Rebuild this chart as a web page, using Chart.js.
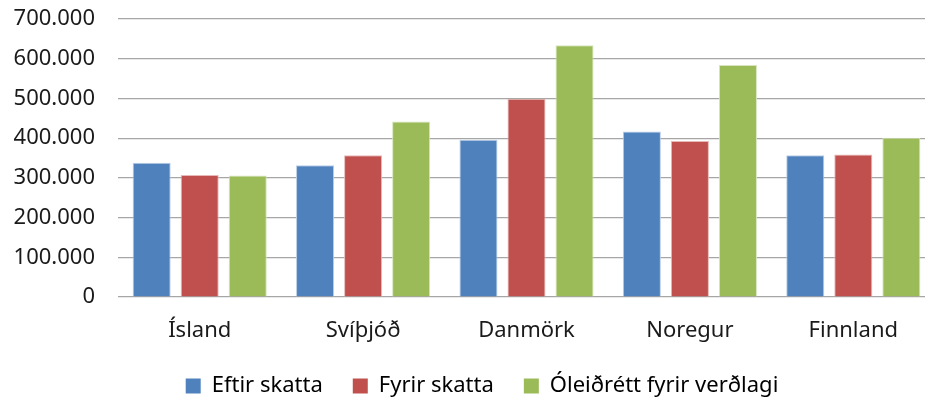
<!DOCTYPE html>
<html>
<head>
<meta charset="utf-8">
<script src="https://cdn.jsdelivr.net/npm/chart.js@4.4.1/dist/chart.umd.min.js"></script>
<style>
  html, body { margin: 0; padding: 0; background: #fff; overflow: hidden; }
  #wrap { width: 964px; height: 401px; }
</style>
</head>
<body>
<div id="wrap"><canvas id="chart" width="964" height="401"></canvas></div>
<script>
// --- data ---
const countries = ['Ísland', 'Svíþjóð', 'Danmörk', 'Noregur', 'Finnland'];
const seriesNames = ['Eftir skatta', 'Fyrir skatta', 'Óleiðrétt fyrir verðlagi'];
const eftirSkatta = [338000, 332000, 396000, 417000, 357000];
const fyrirSkatta = [307000, 357000, 499000, 393000, 359000];
const oleidrett = [306000, 442000, 634000, 584000, 401000];
const yTicks = [0, 100000, 200000, 300000, 400000, 500000, 600000, 700000];

const colors = ['#4F81BD', '#C0504D', '#9BBB59'];
const edges = ['#B9CDE5', '#E6B9B8', '#D7E4BD'];

// thousands with a dot, Icelandic style
function fmt(v) {
    return String(v).replace(/\B(?=(\d{3})+(?!\d))/g, '.');
}

const font = { family: '"Noto Sans", sans-serif', size: 22 };

const ctx = document.getElementById('chart').getContext('2d');
new Chart(ctx, {
    type: 'bar',
    data: {
        labels: countries,
        datasets: [eftirSkatta, fyrirSkatta, oleidrett].map((d, i) => ({
            label: seriesNames[i],
            data: d,
            backgroundColor: colors[i],
            borderColor: edges[i],
            borderWidth: 1,
            categoryPercentage: 0.882,
            barPercentage: 0.792
        }))
    },
    options: {
        responsive: false,
        animation: false,
        layout: { padding: { top: 19, right: 0, bottom: -6, left: 0 } },
        plugins: {
            tooltip: { enabled: false },
            legend: {
                position: 'bottom',
                labels: {
                    boxWidth: 15,
                    boxHeight: 15,
                    padding: 30,
                    color: '#1a1a1a',
                    font: font,
                    generateLabels: chart => chart.data.datasets.map((ds, i) => ({
                        text: ds.label,
                        fillStyle: colors[i],
                        strokeStyle: colors[i],
                        lineWidth: 0,
                        datasetIndex: i
                    }))
                }
            }
        },
        scales: {
            x: {
                grid: { display: false },
                border: { display: false },
                ticks: { color: '#1a1a1a', font: font, padding: 13 },
                afterFit: s => { s.height = 48; }
            },
            y: {
                min: 0,
                max: 700000,
                afterBuildTicks: s => { s.ticks = yTicks.map(v => ({ value: v })); },
                // invisible tick marks push the labels left without padding the top
                grid: { color: '#a6a6a6', lineWidth: 1.2, drawTicks: true, tickLength: 20, tickColor: 'rgba(0,0,0,0)' },
                border: { display: false },
                ticks: { color: '#1a1a1a', font: font, padding: 3, callback: v => fmt(v) },
                afterFit: s => { s.width = 118; }
            },
            // empty spacer on the right so the plot runs past the window edge
            spacer: {
                type: 'linear',
                position: 'right',
                min: 0,
                max: 1,
                grid: { display: false },
                border: { display: false },
                ticks: { display: false },
                afterFit: s => { s.width = 29; }
            }
        }
    }
});
</script>
</body>
</html>
